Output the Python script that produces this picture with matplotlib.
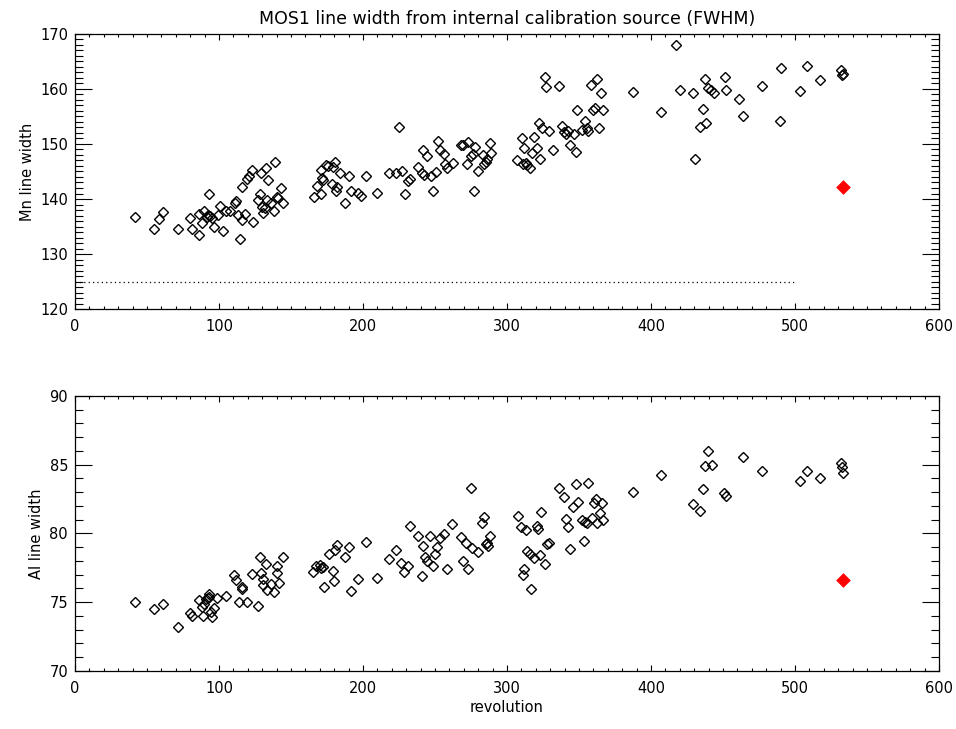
import matplotlib
matplotlib.use("Agg")
import matplotlib.pyplot as plt
from matplotlib.ticker import MultipleLocator

# Mn line width vs revolution
rev_mn = [41.9, 54.9, 58.6, 60.9, 71.5, 79.6, 81.5, 85.9, 86.3, 88.0,
          89.6, 91.4, 92.6, 93.1, 94.0, 94.9, 96.5, 99.3, 100.9, 102.8,
          104.6, 107.6, 110.9, 111.6, 113.2, 114.8, 115.7, 115.7, 118.3, 119.2,
          120.6, 122.7, 123.8, 126.9, 128.7, 129.2, 129.9, 130.8, 131.7, 132.6,
          133.1, 134.0, 135.9, 138.0, 139.1, 140.0, 141.0, 142.8, 144.2, 166.0,
          167.8, 170.8, 170.8, 171.8, 172.5, 174.1, 175.9, 178.2, 179.4, 180.8,
          181.0, 182.2, 184.0, 187.7, 190.5, 191.4, 196.8, 198.4, 201.9, 209.9,
          218.0, 222.9, 225.0, 227.1, 229.2, 231.0, 232.6, 238.0, 240.7, 241.9,
          242.1, 244.7, 247.0, 248.8, 250.5, 251.9, 253.5, 256.3, 257.2, 258.6,
          262.3, 268.1, 269.7, 272.0, 273.1, 275.0, 276.6, 277.1, 278.0, 280.1,
          283.1, 284.3, 285.4, 286.3, 288.0, 288.9, 306.7, 310.2, 310.9, 312.0,
          313.0, 314.1, 316.2, 317.1, 318.8, 320.8, 322.0, 322.9, 324.1, 326.2,
          327.1, 329.2, 331.7, 335.9, 338.0, 339.6, 341.0, 342.4, 343.8, 346.5,
          347.9, 348.8, 352.3, 354.2, 355.3, 356.5, 358.1, 360.0, 361.1, 362.3,
          364.1, 365.0, 366.5, 387.7, 406.9, 417.1, 420.1, 428.9, 430.3, 434.0,
          436.1, 437.3, 438.2, 439.8, 441.4, 443.8, 451.2, 452.3, 461.1, 464.1,
          477.3, 489.4, 490.3, 503.2, 508.3, 517.1, 532.2, 532.6, 533.3]
mn_width = [136.7, 134.5, 136.4, 137.7, 134.5, 136.5, 134.6, 133.5, 137.3, 135.6,
            137.9, 136.8, 137.1, 141.0, 136.9, 136.5, 135.0, 137.1, 138.7, 134.2,
            137.8, 137.9, 139.3, 139.6, 137.1, 132.8, 142.2, 136.1, 137.3, 143.6,
            144.1, 145.3, 135.9, 139.8, 140.9, 144.8, 138.5, 137.5, 138.3, 145.6,
            139.8, 143.4, 139.3, 137.9, 146.7, 140.4, 140.1, 142.0, 139.2, 140.3,
            142.4, 141.0, 145.3, 143.8, 143.5, 146.2, 146.0, 142.7, 145.9, 146.7,
            141.4, 142.1, 144.8, 139.2, 144.1, 141.5, 141.1, 140.5, 144.1, 141.1,
            144.7, 144.7, 153.1, 145.1, 140.9, 143.2, 143.6, 145.8, 144.7, 148.9,
            144.4, 147.9, 144.1, 141.5, 144.9, 150.6, 148.9, 148.1, 146.4, 145.7,
            146.5, 149.9, 149.8, 146.4, 150.4, 147.8, 148.2, 141.5, 149.4, 145.0,
            148.0, 146.3, 146.8, 147.2, 150.2, 148.4, 147.0, 151.0, 146.4, 149.2,
            146.5, 146.2, 145.6, 148.4, 151.2, 149.2, 153.8, 147.2, 152.9, 162.2,
            160.4, 152.4, 148.9, 160.6, 153.3, 152.1, 151.8, 152.4, 149.9, 151.9,
            148.5, 156.1, 152.5, 154.1, 152.9, 152.4, 160.7, 156.2, 156.5, 161.8,
            152.9, 159.2, 156.2, 159.4, 155.8, 168.0, 159.9, 159.2, 147.2, 153.0,
            156.4, 161.9, 153.8, 160.1, 159.9, 159.2, 162.1, 159.9, 158.2, 155.0,
            160.6, 154.1, 163.9, 159.7, 164.1, 161.6, 163.5, 162.5, 162.7]

# Al line width vs revolution
rev_al = [41.9, 54.9, 60.9, 71.5, 79.6, 81.5, 86.3, 88.0, 88.6, 89.6,
          91.0, 92.0, 93.0, 93.1, 94.2, 94.9, 96.8, 98.4, 104.6, 110.4,
          111.6, 113.9, 115.7, 116.0, 119.7, 122.7, 126.9, 128.7, 129.2, 130.3,
          130.8, 132.6, 133.1, 135.9, 138.0, 140.0, 140.5, 141.9, 144.2, 165.5,
          167.4, 170.0, 171.0, 172.0, 172.9, 176.6, 178.9, 179.9, 180.8, 182.2,
          187.5, 190.0, 191.9, 196.8, 201.9, 209.9, 217.8, 222.9, 226.4, 228.7,
          231.0, 232.6, 238.0, 240.7, 241.9, 243.1, 244.7, 246.5, 248.8, 250.0,
          251.6, 253.5, 256.3, 258.1, 262.0, 268.1, 269.7, 271.5, 272.7, 275.0,
          275.9, 280.1, 282.4, 284.0, 285.7, 286.3, 287.0, 288.0, 307.9, 309.7,
          311.3, 312.0, 313.2, 314.1, 316.0, 316.7, 318.8, 320.6, 321.8, 322.9,
          323.8, 326.2, 327.6, 329.2, 335.9, 339.8, 341.0, 342.1, 343.8, 346.1,
          347.9, 349.1, 352.3, 353.5, 354.2, 355.3, 356.5, 358.8, 360.7, 361.8,
          362.5, 364.6, 365.8, 366.9, 387.7, 406.9, 428.9, 434.0, 436.1, 437.3,
          439.8, 442.6, 450.9, 452.1, 464.1, 477.3, 503.2, 508.6, 517.1, 531.7,
          532.4, 533.6]
al_width = [75.04, 74.49, 74.90, 73.18, 74.20, 74.00, 75.16, 74.68, 74.00, 74.90,
            75.20, 75.30, 75.40, 75.60, 74.30, 73.95, 74.60, 75.30, 75.45, 76.98,
            76.60, 75.00, 76.10, 75.95, 75.00, 77.03, 74.75, 78.30, 77.15, 76.67,
            76.25, 77.78, 75.89, 76.30, 75.77, 77.64, 77.10, 76.42, 78.31, 77.20,
            77.60, 77.70, 77.50, 77.55, 76.13, 78.50, 77.30, 76.57, 78.80, 79.16,
            78.27, 79.04, 75.84, 76.69, 79.40, 76.79, 78.12, 78.80, 77.88, 77.22,
            77.66, 80.55, 79.84, 76.91, 79.12, 78.27, 78.00, 79.84, 77.66, 78.50,
            79.04, 79.70, 79.96, 77.40, 80.67, 79.77, 78.02, 79.28, 77.42, 83.31,
            78.92, 78.63, 80.74, 81.18, 79.20, 79.30, 79.10, 79.80, 81.27, 80.45,
            76.96, 77.42, 80.25, 78.73, 78.50, 75.94, 78.20, 80.55, 80.30, 78.44,
            81.59, 77.76, 79.20, 79.30, 83.33, 82.68, 81.03, 80.45, 78.90, 81.95,
            83.60, 82.27, 80.98, 79.48, 80.80, 80.74, 83.70, 81.10, 82.24, 82.48,
            80.74, 81.51, 82.20, 80.98, 83.00, 84.25, 82.15, 81.66, 83.21, 84.91,
            86.00, 84.98, 82.97, 82.73, 85.59, 84.57, 83.84, 84.57, 84.01, 85.15,
            84.86, 84.42]

# latest measurement (red)
rev_last = [533.1]
mn_last = [142.2]
al_last = [76.62]

# nominal Mn width (dotted line)
mn_nominal_rev = [0, 500]
mn_nominal = [124.85, 124.85]

plt.rcParams['font.family'] = ['DejaVu Sans']

fig = plt.figure(figsize=(9.56, 7.29), dpi=100)
ax1 = fig.add_axes([0.0785, 0.5761, 0.9037, 0.3773])
ax2 = fig.add_axes([0.0785, 0.0796, 0.9037, 0.3772])


def style_axis(ax, ymajor):
    ax.set_xlim(0, 600)
    ax.xaxis.set_major_locator(MultipleLocator(100))
    ax.xaxis.set_minor_locator(MultipleLocator(10))
    ax.yaxis.set_major_locator(MultipleLocator(ymajor))
    ax.yaxis.set_minor_locator(MultipleLocator(1))
    ax.tick_params(which='both', direction='in', top=True, right=True,
                   width=0.8, color='black', labelsize=10.5)
    ax.tick_params(axis='y', which='major', length=12, pad=5)
    ax.tick_params(axis='y', which='minor', length=6)
    ax.tick_params(axis='x', which='major', length=4, pad=7)
    ax.tick_params(axis='x', which='minor', length=2)
    for s in ax.spines.values():
        s.set_linewidth(0.9)


mk = dict(marker='D', markersize=5.6, markerfacecolor='none',
          markeredgecolor='black', markeredgewidth=1.0, linestyle='none')
red = dict(marker='D', markersize=5.2, markerfacecolor='red',
           markeredgecolor='red', markeredgewidth=2.4, linestyle='none')

ax1.plot(rev_mn, mn_width, **mk)
ax1.plot(rev_last, mn_last, **red)
ax1.plot(mn_nominal_rev, mn_nominal, color='black', linewidth=0.9,
         linestyle=(0, (1, 2.5)))
ax1.set_ylim(120, 170)
style_axis(ax1, 10)
ax1.set_ylabel("Mn line width", fontsize=10.5, labelpad=4)
ax1.set_title("MOS1 line width from internal calibration source (FWHM)",
              fontsize=12.5, pad=7)

ax2.plot(rev_al, al_width, **mk)
ax2.plot(rev_last, al_last, **red)
ax2.set_ylim(70, 90)
style_axis(ax2, 5)
ax2.set_ylabel("Al line width", fontsize=10.5, labelpad=4)
ax2.set_xlabel("revolution", fontsize=10.5, labelpad=3)

fig.savefig("out.png", dpi=100)
